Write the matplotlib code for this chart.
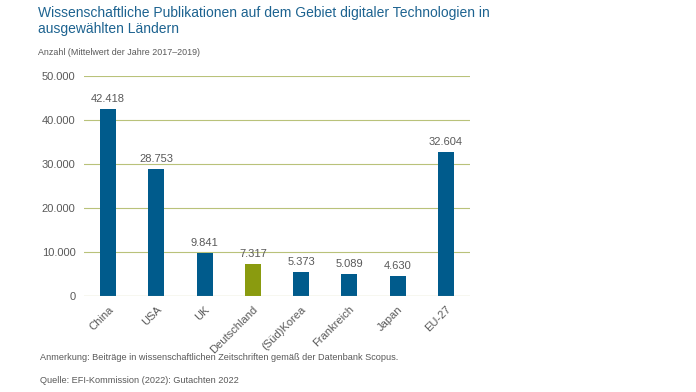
import matplotlib.pyplot as plt
from matplotlib.ticker import FuncFormatter

plt.rcParams['font.family'] = ['Liberation Sans', 'DejaVu Sans']

countries = ['China', 'USA', 'UK', 'Deutschland', '(Süd)Korea', 'Frankreich', 'Japan', 'EU-27']
values = [42418, 28753, 9841, 7317, 5373, 5089, 4630, 32604]
highlight = 'Deutschland'

blue = '#005b8c'
green = '#8a9b0f'
grid_col = '#b9c27a'
grey = '#595959'

colors = [green if c == highlight else blue for c in countries]

fig = plt.figure(figsize=(6.96, 3.92), dpi=100)
ax = fig.add_axes([0.1207, 0.245, 0.5545, 0.562])

x = range(len(countries))
bars = ax.bar(x, values, width=0.33, color=colors, zorder=3)

# value labels above bars
for b, v in zip(bars, values):
    ax.text(b.get_x() + b.get_width() / 2, v + 1100, f'{v:,}'.replace(',', '.'),
            ha='center', va='bottom', fontsize=8, color=grey)

ax.set_xlim(-0.5, len(countries) - 0.5)
ax.set_ylim(0, 50000)
ax.set_yticks(range(0, 50001, 10000))
ax.yaxis.set_major_formatter(FuncFormatter(lambda v, p: f'{int(v):,}'.replace(',', '.')))
ax.grid(axis='y', color=grid_col, linewidth=0.8, zorder=0)
for s in ['top', 'right', 'left', 'bottom']:
    ax.spines[s].set_visible(False)
ax.axhline(0, color=grid_col, linewidth=0.8, zorder=4)

ax.set_xticks(list(x))
ax.set_xticklabels(countries, rotation=45, ha='right', rotation_mode='anchor')
ax.tick_params(axis='both', length=0, labelsize=8, labelcolor=grey)
ax.tick_params(axis='y', pad=6)
ax.tick_params(axis='x', pad=6)

fig.text(0.055, 0.985, 'Wissenschaftliche Publikationen auf dem Gebiet digitaler Technologien in\nausgewählten Ländern',
         fontsize=10, color='#1d6390', ha='left', va='top', linespacing=1.2)
fig.text(0.055, 0.865, 'Anzahl (Mittelwert der Jahre 2017–2019)', fontsize=6.4, color=grey, ha='left', va='center')
fig.text(0.057, 0.089, 'Anmerkung: Beiträge in wissenschaftlichen Zeitschriften gemäß der Datenbank Scopus.',
         fontsize=6.6, color=grey, ha='left', va='center')
fig.text(0.057, 0.029, 'Quelle: EFI-Kommission (2022): Gutachten 2022', fontsize=6.6, color=grey,
         ha='left', va='center')

fig.savefig('out.png', dpi=100)
